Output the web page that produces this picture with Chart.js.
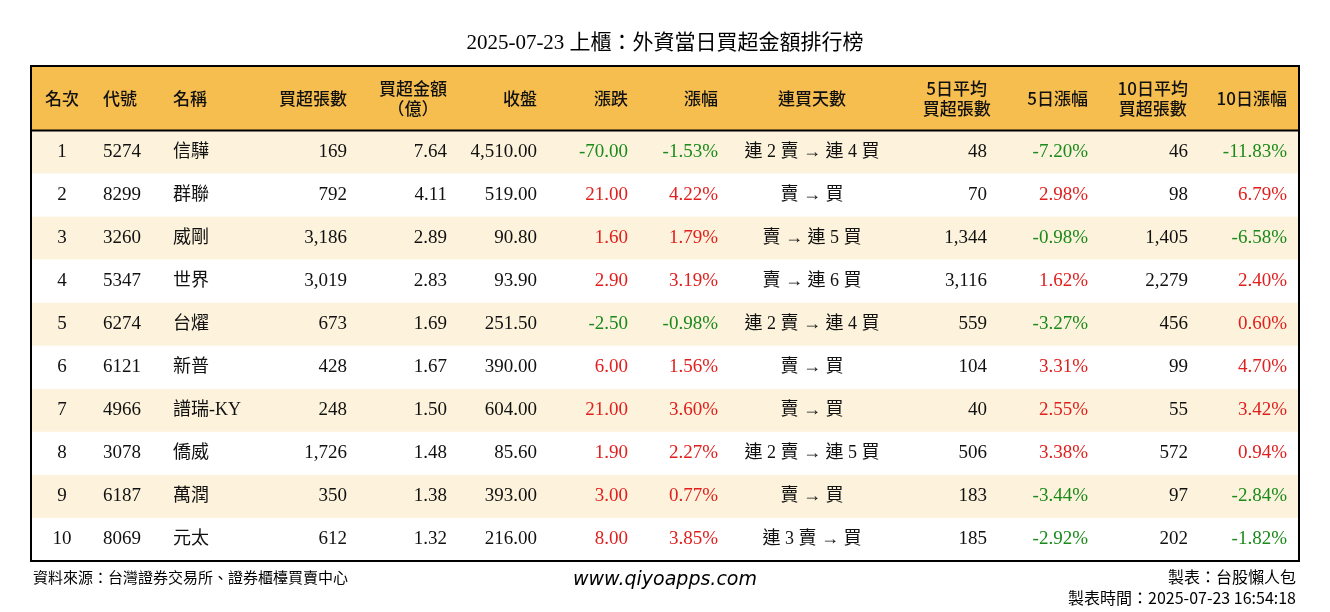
<!DOCTYPE html><html><head><meta charset="utf-8">
<script src="https://cdn.jsdelivr.net/npm/chart.js@4"></script>
<style>html,body{margin:0;padding:0;background:#fff}#w{width:1330px;height:612px}</style></head><body><div id="w"><canvas id="c"></canvas></div>
<script>
const title='2025-07-23 上櫃：外資當日買超金額排行榜';
const headers=['名次','代號','名稱','買超張數','買超金額\n（億）','收盤','漲跌','漲幅','連買天數','5日平均\n買超張數','5日漲幅','10日平均\n買超張數','10日漲幅'];
const ranks=['1','2','3','4','5','6','7','8','9','10'];
const codes=['5274','8299','3260','5347','6274','6121','4966','3078','6187','8069'];
const names=['信驊','群聯','威剛','世界','台燿','新普','譜瑞-KY','僑威','萬潤','元太'];
const buyLots=['169','792','3,186','3,019','673','428','248','1,726','350','612'];
const buyAmt=['7.64','4.11','2.89','2.83','1.69','1.67','1.50','1.48','1.38','1.32'];
const closes=['4,510.00','519.00','90.80','93.90','251.50','390.00','604.00','85.60','393.00','216.00'];
const changes=['-70.00','21.00','1.60','2.90','-2.50','6.00','21.00','1.90','3.00','8.00'];
const pcts=['-1.53%','4.22%','1.79%','3.19%','-0.98%','1.56%','3.60%','2.27%','0.77%','3.85%'];
const streaks=['連 2 賣 → 連 4 買','賣 → 買','賣 → 連 5 買','賣 → 連 6 買','連 2 賣 → 連 4 買','賣 → 買','賣 → 買','連 2 賣 → 連 5 買','賣 → 買','連 3 賣 → 買'];
const avg5=['48','70','1,344','3,116','559','104','40','506','183','185'];
const pct5=['-7.20%','2.98%','-0.98%','1.62%','-3.27%','3.31%','2.55%','3.38%','-3.44%','-2.92%'];
const avg10=['46','98','1,405','2,279','456','99','55','572','97','202'];
const pct10=['-11.83%','6.79%','-6.58%','2.40%','0.60%','4.70%','3.42%','0.94%','-2.84%','-1.82%'];
const footLeft='資料來源：台灣證券交易所、證券櫃檯買賣中心';
const footUrl='www.qiyoapps.com';
const footRight1='製表：台股懶人包';
const footRight2='製表時間：2025-07-23 16:54:18';

const cols=[ranks,codes,names,buyLots,buyAmt,closes,changes,pcts,streaks,avg5,pct5,avg10,pct10];
const colX=[31,72,142,316,416,506,597,687,781,956,1057,1157,1256];
const colAl=['center','left','left','right','right','right','right','right','center','right','right','right','right'];
const signCols=[6,7,10,12];
const HDR=1.5;
const rowsY=ranks.map((_,i)=>HDR+i+0.5);
const CJK='"Noto Sans CJK TC"';
const SER='"Liberation Serif", '+CJK;

const tablePlugin={id:'tbl',beforeDatasetsDraw(ch){
 const {ctx,scales:{x,y},chartArea:a}=ch;
 ctx.save();
 ctx.fillStyle='#F6BE4F';
 ctx.fillRect(a.left,y.getPixelForValue(0),a.right-a.left,y.getPixelForValue(HDR)-y.getPixelForValue(0));
 rowsY.forEach((v,i)=>{const t=y.getPixelForValue(v-0.5),b=y.getPixelForValue(v+0.5);
  ctx.fillStyle=i%2===0?'#FDF3DC':'#FFFFFF';ctx.fillRect(a.left,t,a.right-a.left,b-t);});
 ctx.fillStyle='#111';ctx.textBaseline='middle';
 ctx.font='500 17px '+CJK;
 headers.forEach((h,j)=>{const lines=h.split('\n');const yc=y.getPixelForValue(HDR/2);
  ctx.textAlign=colAl[j];const xp=x.getPixelForValue(colX[j]);
  lines.forEach((l,k)=>{const yy=yc+(k-(lines.length-1)/2)*20;
   if(lines.length>1&&colAl[j]==='right'){ctx.textAlign='center';const w=ctx.measureText(lines[0]).width;ctx.fillText(l,xp-w/2,yy);}
   else ctx.fillText(l,xp,yy);});});
 cols.forEach((arr,j)=>{arr.forEach((v,i)=>{const yp=y.getPixelForValue(rowsY[i]);
  let c='#111';if(signCols.includes(j))c=v.startsWith('-')?'#1A8A1A':'#E0201E';
  ctx.fillStyle=c;ctx.textAlign=colAl[j];
  ctx.font=(j===2||j===8?'18px ':'19px ')+SER;
  ctx.fillText(v,x.getPixelForValue(colX[j]),yp);});});
 ctx.strokeStyle='#000';ctx.lineWidth=2;
 ctx.strokeRect(a.left,a.top,a.right-a.left,a.bottom-a.top);
 ctx.beginPath();const hb=y.getPixelForValue(HDR);ctx.moveTo(a.left,hb);ctx.lineTo(a.right,hb);ctx.stroke();
 ctx.fillStyle='#000';ctx.textAlign='center';ctx.font='21px '+SER;ctx.fillText(title,665,43);
 ctx.font='15px '+CJK;ctx.textAlign='left';ctx.fillText(footLeft,33,577);
 ctx.font='16px '+CJK;ctx.textAlign='right';ctx.fillText(footRight1,1296,577);ctx.fillText(footRight2,1296,598);
 ctx.textAlign='center';ctx.font='italic 19px "DejaVu Sans"';ctx.fillText(footUrl,665,580);
 ctx.restore();}};

new Chart(document.getElementById('c'),{type:'scatter',
 data:{datasets:[{data:[],pointRadius:0}]},
 options:{responsive:true,maintainAspectRatio:false,animation:false,
  layout:{padding:{left:31,right:31,top:66,bottom:51}},
  plugins:{legend:{display:false},tooltip:{enabled:false}},
  scales:{x:{type:'linear',min:0,max:1268,display:false,offset:false},
          y:{type:'linear',min:0,max:HDR+10,reverse:true,display:false}}},
 plugins:[tablePlugin]});
</script></body></html>
